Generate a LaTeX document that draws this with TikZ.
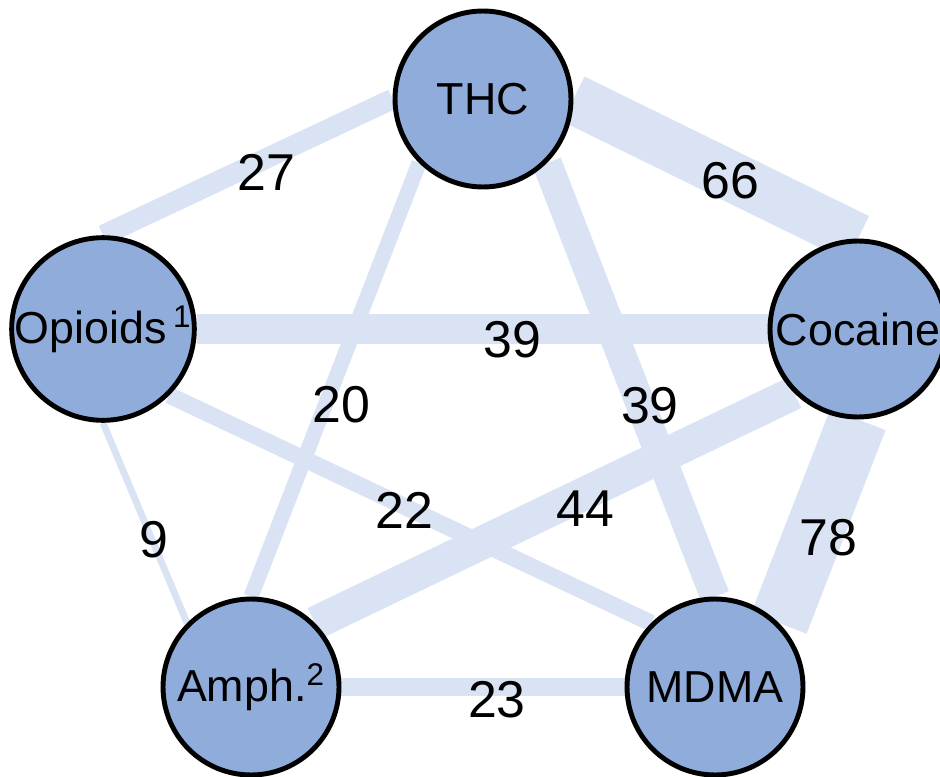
\documentclass[tikz,border=0pt]{standalone}
\usepackage{fontspec}
\setmainfont{Liberation Sans}
\usepackage{xcolor}
\usepackage{tikz}
\usetikzlibrary{backgrounds}

\definecolor{drugblue}{HTML}{8FACDB}
\definecolor{linkblue}{HTML}{DAE3F3}

\begin{document}
\begin{tikzpicture}[x=0.02cm,y=-0.02cm,
  drug/.style={circle, draw=black, line width=2.8pt, fill=drugblue,
    minimum size=3.52cm, inner sep=0pt, font=\fontsize{25.5}{30}\selectfont},
  link/.style={draw=linkblue, line width=#1*0.432pt},
  count/.style={inner sep=0pt, font=\fontsize{29.5}{34}\selectfont}]
\useasboundingbox (0,0) rectangle (940,777);

% Substances
\node[drug] (thc)  at (483,99)  {THC};
\node[drug] (opi)  at (103,329) {Opioids\hspace{0.15em}\textsuperscript{1}};
\node[drug] (coc)  at (858,329) {Cocaine};
\node[drug] (amph) at (251,687) {Amph.\textsuperscript{2}};
\node[drug] (mdma) at (715,687) {MDMA};

% Co-use links, width ~ count
\foreach \a/\b/\w/\dx/\dy in {
  thc.west/opi.north/27/19/5,
  thc.east/coc.north/66/15/12,
  opi.east/coc.west/39/30/11,
  thc.south west/amph.north/20/6/25,
  thc.south east/mdma.north/39/19/26,
  opi.south east/mdma.north west/22/-6/1,
  coc.south west/amph.north east/44/31/1,
  opi.south/amph.north west/9/9/17,
  coc.south/mdma.north east/78/10/16,
  amph.east/mdma.west/23/14/13}{
  \begin{scope}[on background layer]
    \draw[link=\w] (\a) -- (\b);
  \end{scope}
  \path (\a) -- node[count, shift={(\dx,\dy)}] {\w} (\b);
}
\end{tikzpicture}
\end{document}
